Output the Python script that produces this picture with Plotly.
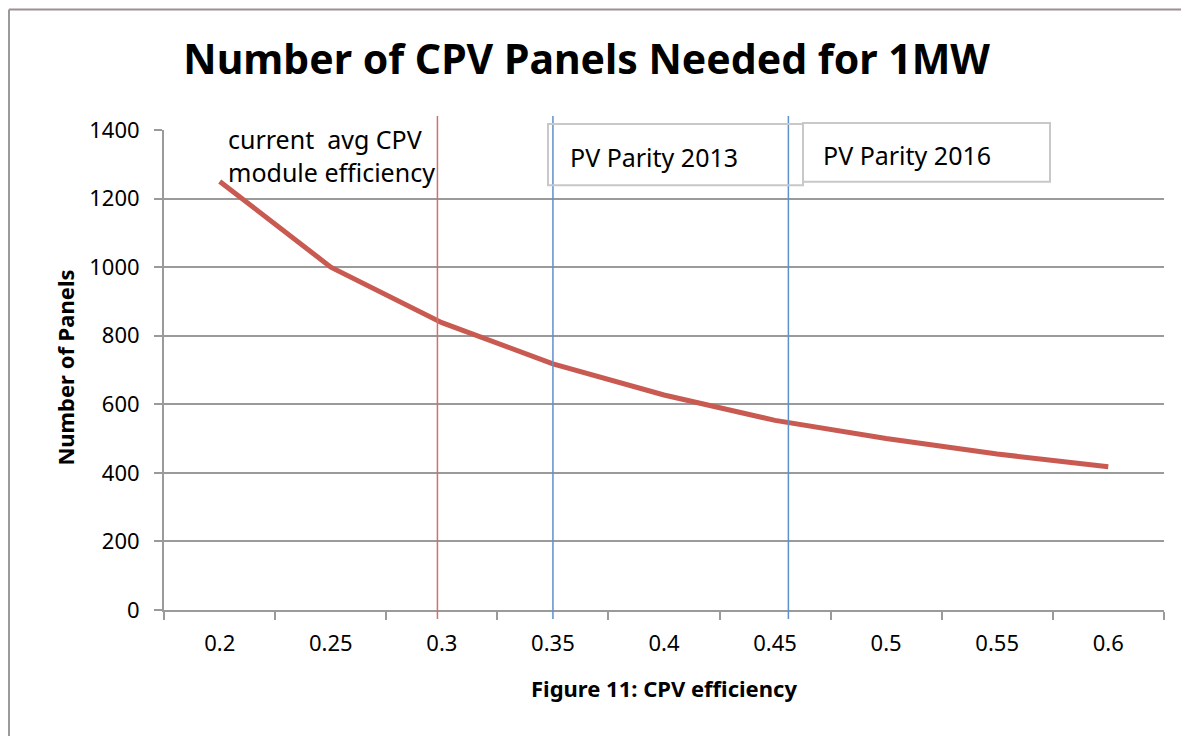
import plotly.graph_objects as go

# Data
efficiency = [0.2, 0.25, 0.3, 0.35, 0.4, 0.45, 0.5, 0.55, 0.6]
panels = [1250, 1000, 838, 718, 627, 553, 500, 455, 418]

current_avg_eff = 0.298
pv_parity_2013 = 0.35
pv_parity_2016 = 0.456

FONT = "Noto Sans"
LINE_RED = "#C95A51"
MARKER_RED = "#D27169"
MARKER_BLUE = "#5E90CC"
GRID = "#9A9A9A"
BOX = "#C8C8C8"

fig = go.Figure()

fig.add_trace(go.Scatter(
    x=efficiency,
    y=panels,
    mode="lines",
    line=dict(color=LINE_RED, width=5),
    showlegend=False,
    hoverinfo="x+y",
))

# vertical reference lines (slightly overshooting the plot area, like Excel)
for xv, col in [(current_avg_eff, MARKER_RED),
                (pv_parity_2013, MARKER_BLUE),
                (pv_parity_2016, MARKER_BLUE)]:
    fig.add_shape(type="line", xref="x", yref="paper",
                  x0=xv, x1=xv, y0=-0.019, y1=1.029,
                  line=dict(color=col, width=1.5), layer="above")

# text boxes
for x0, x1, y0, y1 in [(0.384, 0.639, 0.885, 1.0125),
                       (0.639, 0.886, 0.892, 1.0146)]:
    fig.add_shape(type="rect", xref="paper", yref="paper",
                  x0=x0, x1=x1, y0=y0, y1=y1,
                  line=dict(color=BOX, width=2), fillcolor="rgba(255,255,255,0)")

# outer frame (top and left edges visible in the crop)
fig.add_shape(type="line", xref="paper", yref="paper",
              x0=-0.155, x1=1.03, y0=1.251, y1=1.251,
              line=dict(color="#A08F8F", width=2))
fig.add_shape(type="line", xref="paper", yref="paper",
              x0=-0.155, x1=-0.155, y0=1.251, y1=-0.3,
              line=dict(color="#9A9A9A", width=2))

fig.add_annotation(text="current\u00a0 avg CPV<br>module efficiency",
                   xref="paper", yref="paper", x=0.062, y=1.02,
                   xanchor="left", yanchor="top", align="left", showarrow=False,
                   font=dict(family=FONT, size=25, color="black"))
fig.add_annotation(text="PV Parity 2013", xref="paper", yref="paper",
                   x=0.404, y=0.944, xanchor="left", yanchor="middle",
                   showarrow=False, font=dict(family=FONT, size=25, color="black"))
fig.add_annotation(text="PV Parity 2016", xref="paper", yref="paper",
                   x=0.657, y=0.948, xanchor="left", yanchor="middle",
                   showarrow=False, font=dict(family=FONT, size=25, color="black"))

# axis titles
fig.add_annotation(text="<b>Number of Panels</b>", xref="paper", yref="paper",
                   x=-0.099, y=0.505, xanchor="center", yanchor="middle",
                   textangle=-90, showarrow=False,
                   font=dict(family=FONT, size=22, color="black"))
fig.add_annotation(text="<b>Figure 11: CPV efficiency</b>", xref="paper", yref="paper",
                   x=0.5, y=-0.1625, xanchor="center", yanchor="middle",
                   showarrow=False,
                   font=dict(family=FONT, size=22, color="black"))

fig.update_layout(
    width=1181, height=728,
    margin=dict(l=156, r=25, t=122, b=126),
    paper_bgcolor="white",
    plot_bgcolor="white",
    title=dict(text="<b>Number of CPV Panels Needed for 1MW</b>",
               x=0.49, xanchor="center", y=0.929, yanchor="middle",
               font=dict(family=FONT, size=41, color="black")),
    font=dict(family=FONT, size=22, color="black"),
    xaxis=dict(
        range=[0.1749, 0.6251],
        tickvals=efficiency,
        ticktext=[f"{v:g}" for v in efficiency],
        ticks="",
        showgrid=False,
        zeroline=False,
        showline=True, linecolor=GRID, linewidth=2,
        ticklabelstandoff=13,
        minor=dict(ticks="outside", tick0=0.175, dtick=0.05,
                   ticklen=8, tickwidth=2, tickcolor=GRID, showgrid=False),
    ),
    yaxis=dict(
        range=[0, 1400],
        dtick=200,
        ticks="outside", ticklen=8, tickwidth=2, tickcolor=GRID,
        showgrid=True, gridcolor=GRID, gridwidth=1.5,
        zeroline=False,
        showline=True, linecolor=GRID, linewidth=2,
        ticklabelstandoff=10,
    ),
)

fig.write_html("out.html")
